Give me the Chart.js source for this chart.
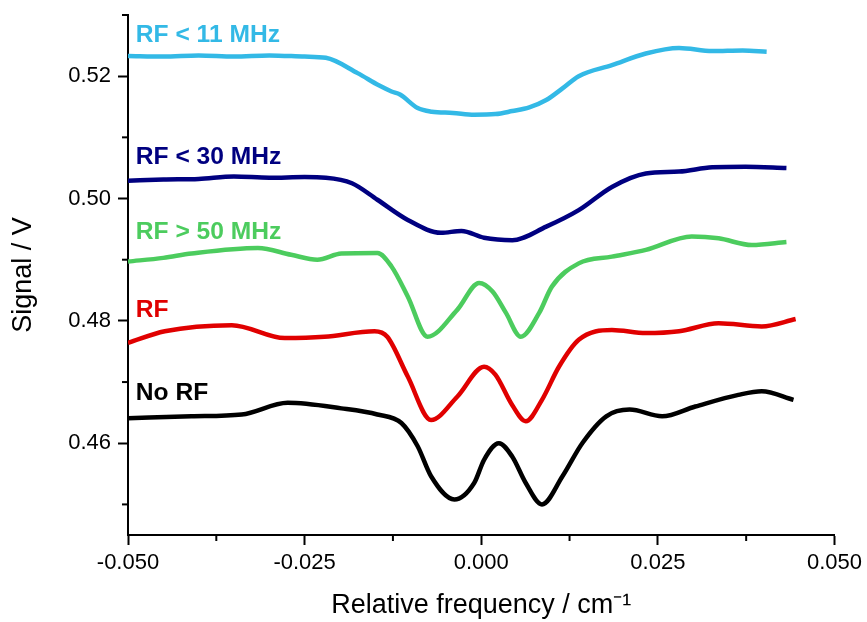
<!DOCTYPE html>
<html>
<head>
<meta charset="utf-8">
<script src="https://cdn.jsdelivr.net/npm/chart.js@4.4.0/dist/chart.umd.min.js"></script>
<style>
  html, body { margin: 0; padding: 0; background: #fff; }
  #wrap { width: 867px; height: 622px; }
</style>
</head>
<body>
<div id="wrap"><canvas id="chart" width="867" height="622"></canvas></div>
<script>
'use strict';

// series names, shown as coloured labels on the plot
var seriesNames = ['RF < 11 MHz', 'RF < 30 MHz', 'RF > 50 MHz', 'RF', 'No RF'];
var seriesColors = ['#33b9e6', '#000080', '#4ccc5e', '#e00000', '#000000'];

// RF < 11 MHz
var xRf11 = [-0.050, -0.045, -0.040, -0.035, -0.030, -0.025, -0.022, -0.0175, -0.0145, -0.0127, -0.0115, -0.009, -0.007, -0.004, -0.001, 0.002, 0.0044, 0.0068, 0.0092, 0.0115, 0.0138, 0.0185, 0.0233, 0.028, 0.0327, 0.037, 0.0404];
var yRf11 = [0.5233, 0.5232, 0.5234, 0.5232, 0.5234, 0.5232, 0.5230, 0.5205, 0.5185, 0.5175, 0.5170, 0.5148, 0.5142, 0.5140, 0.5137, 0.5138, 0.5143, 0.5149, 0.5161, 0.5180, 0.5200, 0.5218, 0.5237, 0.5246, 0.5241, 0.5242, 0.5240];

// RF < 30 MHz
var xRf30 = [-0.050, -0.045, -0.040, -0.035, -0.030, -0.025, -0.022, -0.0183, -0.0147, -0.0104, -0.0057, -0.0028, 0.0004, 0.0044, 0.0092, 0.0138, 0.0185, 0.0233, 0.028, 0.0327, 0.0374, 0.0432];
var yRf30 = [0.5029, 0.5031, 0.5032, 0.5036, 0.5034, 0.5035, 0.5034, 0.5025, 0.4998, 0.4965, 0.4944, 0.4947, 0.4936, 0.4932, 0.4954, 0.4981, 0.5019, 0.5041, 0.5044, 0.5051, 0.5052, 0.5050];

// RF > 50 MHz
var xRf50 = [-0.050, -0.045, -0.041, -0.0316, -0.0269, -0.0232, -0.0198, -0.0147, -0.0127, -0.0104, -0.0076, -0.0034, -0.0003, 0.0016, 0.0035, 0.0056, 0.0082, 0.0100, 0.0138, 0.0185, 0.0233, 0.0298, 0.0336, 0.0383, 0.0432];
var yRf50 = [0.4897, 0.4903, 0.4910, 0.4919, 0.4908, 0.4900, 0.4910, 0.4911, 0.4889, 0.4840, 0.4774, 0.4818, 0.4862, 0.4848, 0.4813, 0.4774, 0.4813, 0.4856, 0.4894, 0.4905, 0.4916, 0.4938, 0.4935, 0.4924, 0.4929];

// RF
var xRf = [-0.050, -0.0448, -0.0353, -0.0278, -0.0222, -0.0151, -0.0133, -0.0104, -0.0071, -0.0034, 0.0004, 0.002, 0.0044, 0.0063, 0.0086, 0.011, 0.0138, 0.0185, 0.0233, 0.028, 0.0336, 0.0397, 0.0445];
var yRf = [0.4764, 0.4783, 0.4793, 0.4772, 0.4774, 0.4783, 0.4774, 0.4709, 0.4638, 0.4676, 0.4725, 0.4712, 0.4662, 0.4636, 0.4671, 0.4725, 0.4769, 0.4785, 0.4780, 0.4783, 0.4796, 0.4791, 0.4803];

// No RF
var xNoRf = [-0.050, -0.041, -0.0339, -0.0274, -0.0198, -0.0147, -0.0113, -0.009, -0.0071, -0.0038, -0.001, 0.0004, 0.0025, 0.0044, 0.0063, 0.0086, 0.0115, 0.0143, 0.0177, 0.021, 0.0256, 0.0303, 0.0364, 0.0397, 0.0442];
var yNoRf = [0.4641, 0.4644, 0.4647, 0.4666, 0.4657, 0.4647, 0.4633, 0.4595, 0.4546, 0.4508, 0.4535, 0.4573, 0.4600, 0.4578, 0.4535, 0.4500, 0.4546, 0.4600, 0.4644, 0.4655, 0.4644, 0.4660, 0.4679, 0.4685, 0.4671];

// where each series name is written (data units)
var labelX = [-0.0489, -0.0489, -0.0489, -0.0489, -0.0489];
var labelY = [0.5267, 0.5068, 0.4945, 0.4818, 0.4682];

var allX = [xRf11, xRf30, xRf50, xRf, xNoRf];
var allY = [yRf11, yRf30, yRf50, yRf, yNoRf];

function toPoints(xs, ys){
  var pts = [];
  for (var i = 0; i < xs.length; i++){
    pts.push({x: xs[i], y: ys[i]});
  }
  return pts;
}

var datasets = [];
for (var s = 0; s < seriesNames.length; s++){
  datasets.push({
    label: seriesNames[s],
    data: toPoints(allX[s], allY[s]),
    borderColor: seriesColors[s],
    backgroundColor: seriesColors[s],
    borderWidth: 4.5,
    pointRadius: 0,
    showLine: true,
    cubicInterpolationMode: 'monotone',
    fill: false
  });
}

function isMajorX(v){ return Math.abs(Math.round(v * 1000) % 25) === 0; }
function isMajorY(v){ return Math.abs(Math.round(v * 100) % 2) === 0; }

// short minor ticks drawn by hand, long ones come from chart.js
var minorTicks = {
  id: 'minorTicks',
  afterDraw: function(chart){
    var ctx = chart.ctx;
    var xs = chart.scales.x, ys = chart.scales.y;
    ctx.save();
    ctx.strokeStyle = '#000';
    ctx.lineWidth = 2;
    xs.ticks.forEach(function(t){
      if (!isMajorX(t.value)){
        var px = xs.getPixelForValue(t.value);
        ctx.beginPath();
        ctx.moveTo(px, xs.top);
        ctx.lineTo(px, xs.top + 6);
        ctx.stroke();
      }
    });
    ys.ticks.forEach(function(t){
      if (!isMajorY(t.value)){
        var py = ys.getPixelForValue(t.value);
        ctx.beginPath();
        ctx.moveTo(ys.right, py);
        ctx.lineTo(ys.right - 6, py);
        ctx.stroke();
      }
    });
    ctx.restore();
  }
};

// series names written on the plot in their colour
var seriesLabels = {
  id: 'seriesLabels',
  afterDatasetsDraw: function(chart){
    var ctx = chart.ctx;
    ctx.save();
    ctx.font = 'bold 24.6px "Liberation Sans", Arial, sans-serif';
    ctx.textBaseline = 'middle';
    ctx.textAlign = 'left';
    for (var i = 0; i < seriesNames.length; i++){
      ctx.fillStyle = seriesColors[i];
      ctx.fillText(seriesNames[i], chart.scales.x.getPixelForValue(labelX[i]), chart.scales.y.getPixelForValue(labelY[i]));
    }
    ctx.restore();
  }
};

var ctx = document.getElementById('chart').getContext('2d');
new Chart(ctx, {
  type: 'scatter',
  data: { datasets: datasets },
  plugins: [minorTicks, seriesLabels],
  options: {
    responsive: false,
    animation: false,
    layout: { padding: { top: 15, right: 31, left: 0, bottom: 0 } },
    plugins: {
      legend: { display: false },
      tooltip: { enabled: false }
    },
    scales: {
      x: {
        type: 'linear',
        min: -0.05,
        max: 0.05,
        afterFit: function(scale){ scale.height = 87; },
        border: { color: '#000', width: 2 },
        grid: {
          drawOnChartArea: false,
          drawTicks: true,
          tickLength: 10,
          tickWidth: 2,
          tickColor: function(c){ return isMajorX(c.tick.value) ? '#000' : 'rgba(0,0,0,0)'; }
        },
        ticks: {
          stepSize: 0.0125,
          autoSkip: false,
          maxRotation: 0,
          padding: 5,
          color: '#000',
          font: { family: '"Liberation Sans", Arial, sans-serif', size: 22 },
          callback: function(v){
            if (!isMajorX(v)) return '';
            var r = Math.round(v * 1000) / 1000;
            if (r === 0) return '0.000';
            return r.toFixed(3);
          }
        },
        title: {
          display: true,
          text: 'Relative frequency / cm\u207B\u00B9',
          color: '#000',
          padding: { top: 0, bottom: 0 },
          font: { family: '"Liberation Sans", Arial, sans-serif', size: 27 }
        }
      },
      y: {
        type: 'linear',
        min: 0.445,
        max: 0.53,
        afterFit: function(scale){
          scale.width = 128;
          scale.paddingTop = 0;
          scale.paddingBottom = 0;
        },
        border: { color: '#000', width: 2 },
        grid: {
          drawOnChartArea: false,
          drawTicks: true,
          tickLength: 10,
          tickWidth: 2,
          tickColor: function(c){ return isMajorY(c.tick.value) ? '#000' : 'rgba(0,0,0,0)'; }
        },
        ticks: {
          stepSize: 0.01,
          includeBounds: false,
          autoSkip: false,
          padding: 7,
          color: '#000',
          font: { family: '"Liberation Sans", Arial, sans-serif', size: 22 },
          callback: function(v){
            if (!isMajorY(v)) return '';
            return (Math.round(v * 100) / 100).toFixed(2);
          }
        },
        title: {
          display: true,
          text: 'Signal / V',
          color: '#000',
          padding: { top: 7, bottom: 0 },
          font: { family: '"Liberation Sans", Arial, sans-serif', size: 27 }
        }
      }
    }
  }
});
</script>
</body>
</html>
